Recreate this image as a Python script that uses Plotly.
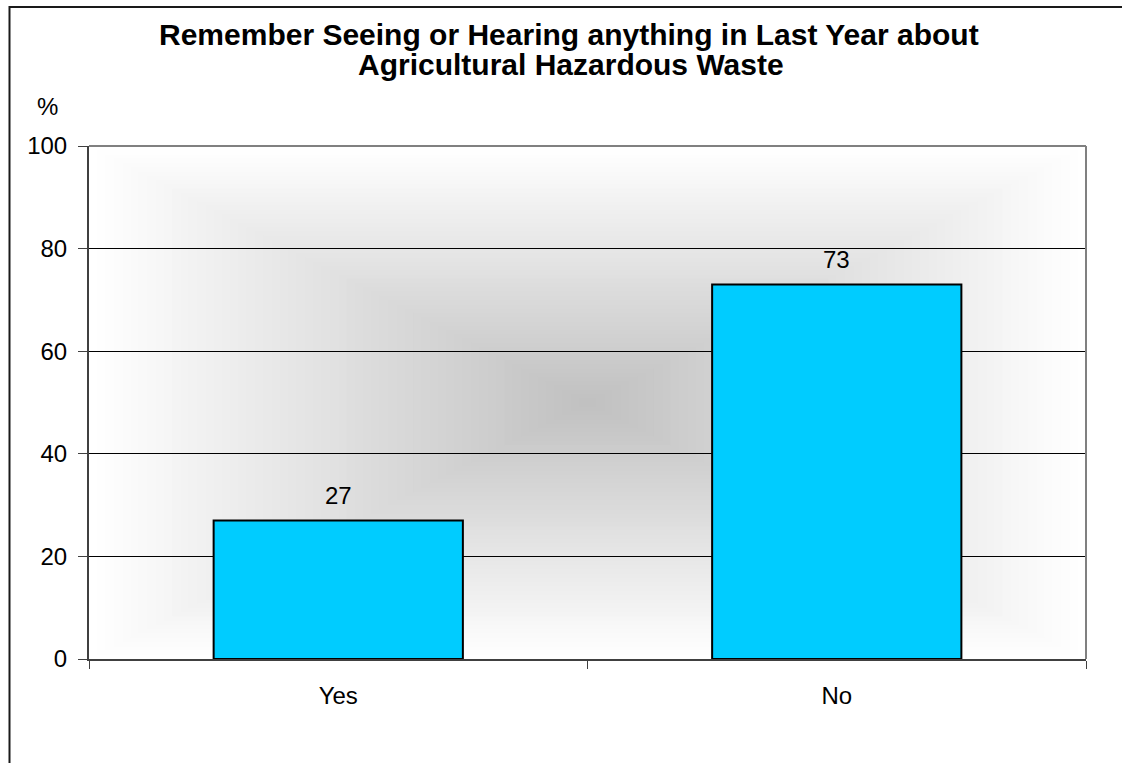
import plotly.graph_objects as go

categories = ["Yes", "No"]
values = [27, 73]
title_lines = ["Remember Seeing or Hearing anything in Last Year about",
               "Agricultural Hazardous Waste"]
y_ticks = [0, 20, 40, 60, 80, 100]

W, H = 1122, 763
L, R, T, B = 89, 36, 146, 104
PW, PH = W - L - R, H - T - B

def px(x):
    return (x - L) / PW

def py(y):
    return (H - B - y) / PH

FONT = "Liberation Sans, Arial, sans-serif"

fig = go.Figure()
fig.add_trace(go.Bar(
    x=categories, y=values,
    marker=dict(color="#00CCFF", line=dict(color="#000000", width=2)),
    hoverinfo="skip",
))

shapes = []
# rectangular "from center" gradient background
N = 60
for i in range(N):
    t = i / (2 * N)
    f = 1 - i / N
    c = int(round(192 + 63 * f))
    col = f"rgb({c},{c},{c})"
    shapes.append(dict(type="rect", xref="paper", yref="paper",
                       x0=t, x1=1 - t, y0=t, y1=1 - t,
                       fillcolor=col, line=dict(width=0), layer="below"))
# top and right border of plot area (gray)
shapes.append(dict(type="line", xref="paper", yref="paper", x0=0, x1=1, y0=1, y1=1,
                   line=dict(color="#808080", width=2), layer="above"))
shapes.append(dict(type="line", xref="paper", yref="paper", x0=1, x1=1, y0=0, y1=1,
                   line=dict(color="#808080", width=2), layer="above"))
# outer chart border (top and left visible)
shapes.append(dict(type="line", xref="paper", yref="paper", x0=px(9.5), x1=px(1125),
                   y0=py(7), y1=py(7), line=dict(color="#1a1a1a", width=2)))
shapes.append(dict(type="line", xref="paper", yref="paper", x0=px(9.5), x1=px(9.5),
                   y0=py(6), y1=py(770), line=dict(color="#1a1a1a", width=2)))

annotations = []
for cat, v in zip(categories, values):
    annotations.append(dict(x=cat, y=v, xref="x", yref="y", text=str(v),
                            showarrow=False, yanchor="middle", yshift=25,
                            font=dict(family=FONT, size=24, color="#000")))
annotations.append(dict(x=px(569), y=py(34), xref="paper", yref="paper",
                        text="<b>%s</b>" % title_lines[0], showarrow=False,
                        xanchor="center", yanchor="middle",
                        font=dict(family=FONT, size=30, color="#000")))
annotations.append(dict(x=px(571), y=py(65), xref="paper", yref="paper",
                        text="<b>%s</b>" % title_lines[1], showarrow=False,
                        xanchor="center", yanchor="middle",
                        font=dict(family=FONT, size=30, color="#000")))
annotations.append(dict(x=px(47), y=py(106), xref="paper", yref="paper",
                        text="%", showarrow=False, xanchor="center", yanchor="middle",
                        font=dict(family=FONT, size=24, color="#000")))

fig.update_layout(
    width=W, height=H,
    margin=dict(l=L, r=R, t=T, b=B, pad=0),
    paper_bgcolor="white", plot_bgcolor="white",
    showlegend=False, bargap=0.5,
    shapes=shapes, annotations=annotations,
    font=dict(family=FONT, size=24, color="#000"),
)
fig.update_xaxes(
    showgrid=False, showline=True, linecolor="#404040", linewidth=2,
    ticks="outside", tickson="boundaries", ticklen=8, tickcolor="#404040", tickwidth=1,
    tickfont=dict(family=FONT, size=24, color="#000"), ticklabelstandoff=14,
    fixedrange=True,
)
fig.update_yaxes(
    range=[0, 100], tickvals=y_ticks, showgrid=True, gridcolor="#000000", gridwidth=1,
    showline=True, linecolor="#404040", linewidth=2, zeroline=False,
    ticks="outside", ticklen=9, tickcolor="#404040", tickwidth=1,
    tickfont=dict(family=FONT, size=24, color="#000"), ticklabelstandoff=6,
    fixedrange=True,
)

fig.write_html("out.html", config={"displayModeBar": False},
               post_script="document.body.style.margin='0';document.body.style.overflow='hidden';")
